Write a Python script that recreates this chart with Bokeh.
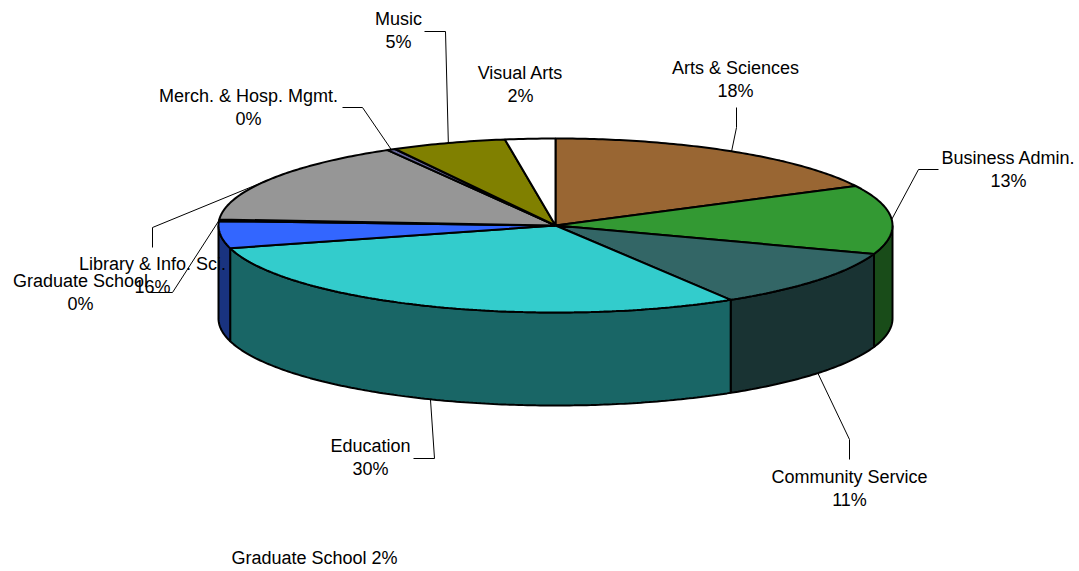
import numpy as np
from bokeh.plotting import figure
from bokeh.models import Range1d, ColumnDataSource
from bokeh.core.properties import value
from bokeh.embed import file_html
from bokeh.resources import INLINE

# ---------------- data ----------------
categories = ["Arts & Sciences", "Business Admin.", "Community Service", "Education",
              "Graduate School", "Graduate School", "Library & Info. Sci.",
              "Merch. & Hosp. Mgmt.", "Music", "Visual Arts"]
shares = [17.5, 12.8, 11.0, 29.5, 5.0, 0.3, 15.6, 0.4, 5.5, 2.4]
pct_labels = ["18%", "13%", "11%", "30%", "2%", "0%", "16%", "0%", "5%", "2%"]
colors = ["#996633", "#339933", "#336666", "#33CCCC", "#3366FF",
          "#993366", "#969696", "#666699", "#808000", "#FFFFFF"]

# ---------------- layout ----------------
W, H = 1079, 571
CX, CY, RX, RY, DEPTH = 555.0, 225.0, 337.0, 87.0, 93.0
FONT = "Liberation Sans"
FS = "18px"
LINE_GAP = 23.5
# label centre (first line) and leader-line start/elbow per slice
label_pos = {
    0: (735, 67), 1: (1008, 157), 2: (849, 476), 3: (370, 445),
    5: (80, 280), 6: (152, 263), 7: (248, 95), 8: (398, 18), 9: (520, 72),
}
leader_pts = {
    0: [(736, 107), (736, 127)],
    1: [(938, 169), (918, 169)],
    2: [(849, 459), (849, 439)],
    3: [(413, 458), (434, 458)],
    5: [(150, 292), (172, 292)],
    6: [(152, 247), (152, 227)],
    7: [(342, 107), (362, 107)],
    8: [(424, 31), (445, 31)],
}
single_label = {4: (314, 557)}


def ex(t):
    return CX + RX * np.sin(t)


def ey(t):
    return CY - RY * np.cos(t)


total = float(sum(shares))
fr = np.array(shares) / total
ends = np.cumsum(fr) * 2 * np.pi
starts = ends - fr * 2 * np.pi

side_xs, side_ys, side_cols = [], [], []
top_xs, top_ys, top_cols = [], [], []


def darker(h):
    h = h.lstrip("#")
    r, g, b = (int(h[i:i + 2], 16) for i in (0, 2, 4))
    return "#%02x%02x%02x" % (r // 2, g // 2, b // 2)


for i in range(len(shares)):
    a0, a1 = starts[i], ends[i]
    s, e = max(a0, np.pi / 2), min(a1, 3 * np.pi / 2)
    if e > s:
        t = np.linspace(s, e, max(4, int((e - s) * 80)))
        xs = list(ex(t)) + list(ex(t[::-1]))
        ys = list(ey(t)) + list(ey(t[::-1]) + DEPTH)
        side_xs.append(xs)
        side_ys.append(ys)
        side_cols.append(darker(colors[i]))
    t = np.linspace(a0, a1, max(3, int((a1 - a0) * 80)))
    top_xs.append([CX] + list(ex(t)))
    top_ys.append([CY] + list(ey(t)))
    top_cols.append(colors[i])

p = figure(width=W, height=H, x_range=Range1d(0, W), y_range=Range1d(H, 0),
           output_backend="svg", toolbar_location=None, min_border=0)
p.axis.visible = False
p.grid.visible = False
p.outline_line_color = None
p.background_fill_color = "white"

p.patches(xs="xs", ys="ys", fill_color="c", line_color="black", line_width=2,
          source=ColumnDataSource(dict(xs=side_xs, ys=side_ys, c=side_cols)))
p.patches(xs="xs", ys="ys", fill_color="c", line_color="black", line_width=2,
          source=ColumnDataSource(dict(xs=top_xs, ys=top_ys, c=top_cols)))

lx, ly = [], []
for i, pts in leader_pts.items():
    mid = (starts[i] + ends[i]) / 2
    ax, ay = ex(mid), ey(mid)
    if np.pi / 2 < mid < 3 * np.pi / 2:
        ay += DEPTH
    lx.append([pts[0][0], pts[1][0], ax])
    ly.append([pts[0][1], pts[1][1], ay])
p.multi_line(xs=lx, ys=ly, line_color="black", line_width=1)

tx, ty, tt = [], [], []
for i, (x, y) in label_pos.items():
    tx += [x, x]
    ty += [y, y + LINE_GAP]
    tt += [categories[i], pct_labels[i]]
for i, (x, y) in single_label.items():
    tx.append(x)
    ty.append(y)
    tt.append(categories[i] + " " + pct_labels[i])
p.text(x=tx, y=ty, text=tt, text_font=value(FONT), text_font_size=FS,
       text_align="center", text_baseline="middle", text_color="black")

open("out.html", "w").write(file_html(p, INLINE))
